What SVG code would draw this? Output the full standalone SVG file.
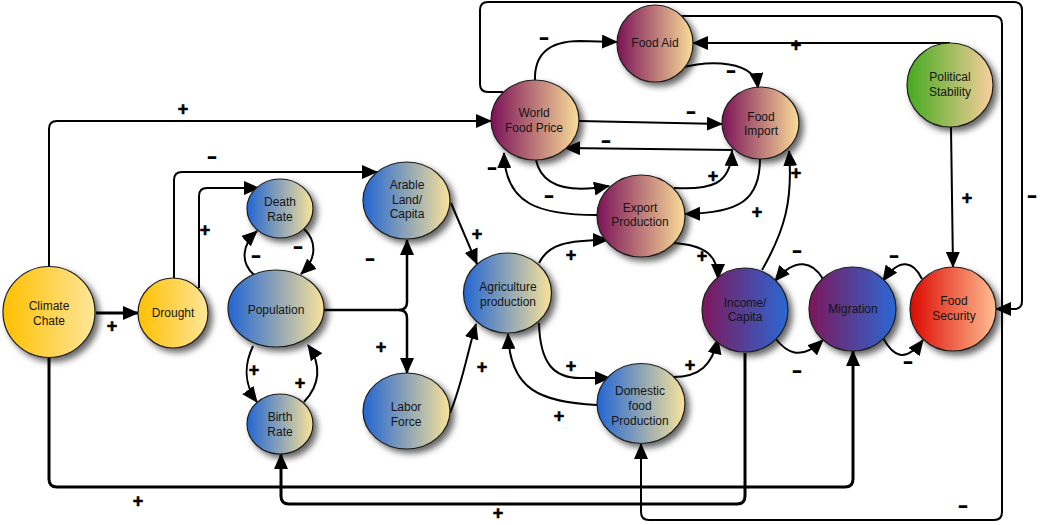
<svg xmlns="http://www.w3.org/2000/svg" width="1046" height="525" viewBox="0 0 1046 525">
<style>
.c{fill:none;stroke:#000;stroke-width:2}
.k{stroke-width:3}
.m2{stroke-width:2.5}
.n{stroke:#1e1e1e;stroke-width:1.2;filter:url(#sh)}
.t{font-family:"Liberation Sans",Arial,sans-serif;font-size:12px;fill:#151515;text-anchor:middle;dominant-baseline:central}
.p{font-family:"Liberation Sans",Arial,sans-serif;font-size:18px;font-weight:bold;fill:#000;stroke:#000;stroke-width:0.6;text-anchor:middle}
.q{font-family:"Liberation Sans",Arial,sans-serif;font-size:24px;font-weight:bold;fill:#000;text-anchor:middle}
</style>
<defs>
<filter id="sh" x="-30%" y="-30%" width="170%" height="170%">
<feDropShadow dx="4" dy="4" stdDeviation="3" flood-color="#000" flood-opacity="0.6"/>
</filter>
<marker id="ah" viewBox="0 0 16 14" refX="15" refY="7" markerWidth="16" markerHeight="14" markerUnits="userSpaceOnUse" orient="auto">
<path d="M0,0 L16,7 L0,14 z" fill="#000"/>
</marker>
<linearGradient id="gY"><stop offset="0" stop-color="#FFC000"/><stop offset="1" stop-color="#FFE69A"/></linearGradient>
<linearGradient id="gB"><stop offset="0" stop-color="#2165D3"/><stop offset="1" stop-color="#F9E39A"/></linearGradient>
<linearGradient id="gM"><stop offset="0" stop-color="#7B1257"/><stop offset="1" stop-color="#FADD99"/></linearGradient>
<linearGradient id="gP"><stop offset="0" stop-color="#7D175A"/><stop offset="1" stop-color="#2A68D4"/></linearGradient>
<linearGradient id="gR"><stop offset="0" stop-color="#DC0800"/><stop offset="1" stop-color="#FFBF93"/></linearGradient>
<linearGradient id="gG"><stop offset="0" stop-color="#44AA1E"/><stop offset="1" stop-color="#F9CF9D"/></linearGradient>
</defs>
<rect width="1046" height="525" fill="#fff"/>
<g id="connectors" marker-end="url(#ah)">
<path class="c k" d="M96,313 L138,313"/>
<path class="c" d="M49,267 V129 Q49,121 57,121 H491"/>
<path class="c k" d="M49,358 V479 Q49,487 57,487 H845 Q853,487 853,479 V351"/>
<path class="c k" d="M745,353 V496 Q745,504 737,504 H289 Q281,504 281,496 V454"/>
<path class="c" d="M503,92 H488 Q480,92 480,84 V10 Q480,2 488,2 H1014 Q1022,2 1022,10 V301 Q1022,309 1014,309 H996"/>
<path class="c" d="M682,16 H994 Q1002,16 1002,24 V512 Q1002,520 994,520 H649 Q641,520 641,512 V444"/>
<path class="c" d="M950,43 H693"/>
<path class="c" d="M951,127 L953,267"/>
<path class="c" d="M922,279 C914,262 900,256 883,281"/>
<path class="c" d="M883,338 C893,356 905,364 923,340"/>
<path class="c" d="M823,279 C813,262 796,256 775,281"/>
<path class="c" d="M775,338 C786,352 800,362 823,340"/>
<path class="c" d="M762,270 C785,230 793,200 789,151"/>
<path class="c" d="M760,159 C760,200 740,213 685,214"/>
<path class="c" d="M674,188 C710,190 731,185 732,151"/>
<path class="c" d="M579,121 L722,124"/>
<path class="c" d="M733,150 L565,148"/>
<path class="c" d="M535,81 C534,55 548,41 580,41 L617,42"/>
<path class="c" d="M680,68 C710,60 755,60 758,88"/>
<path class="c" d="M536,160 C542,188 570,193 609,186"/>
<path class="c" d="M597,215 C540,215 505,205 504,153"/>
<path class="c" d="M451,203 L477,264"/>
<path class="c" d="M450,413 C462,385 468,350 476,324"/>
<path class="c" d="M539,263 C548,245 565,240 608,240"/>
<path class="c" d="M539,323 C540,365 555,378 580,378 L610,378"/>
<path class="c" d="M597,405 C540,402 510,390 508,334"/>
<path class="c" d="M673,243 C705,245 718,255 718,279"/>
<path class="c" d="M673,377 C700,377 712,365 718,339"/>
<path class="c" d="M174,279 V180 Q174,172 182,172 H377"/>
<path class="c" d="M199,288 V196 Q199,188 207,188 H259"/>
<path class="c" d="M304,229 C316,240 318,258 301,274"/>
<path class="c" d="M254,275 C240,262 242,245 257,231"/>
<path class="c" d="M253,346 C244,365 244,385 257,402"/>
<path class="c" d="M304,402 C320,385 322,365 308,345"/>
<path class="c m2" d="M324,310 H399 Q407,310 407,302 V240"/>
<path class="c m2" d="M399,310 Q407,310 407,318 V373"/>
</g>
<g id="labels">
<text class="p" x="112" y="332">+</text>
<text class="p" x="183" y="115">+</text>
<text class="p" x="138" y="507">+</text>
<text class="p" x="498" y="519">+</text>
<text class="q" x="212" y="164" textLength="11" lengthAdjust="spacingAndGlyphs">-</text>
<text class="p" x="205" y="236">+</text>
<text class="q" x="298" y="254" textLength="11" lengthAdjust="spacingAndGlyphs">-</text>
<text class="q" x="256" y="263" textLength="11" lengthAdjust="spacingAndGlyphs">-</text>
<text class="p" x="254" y="376">+</text>
<text class="p" x="300" y="389">+</text>
<text class="q" x="370" y="266" textLength="11" lengthAdjust="spacingAndGlyphs">-</text>
<text class="p" x="381" y="353">+</text>
<text class="p" x="477" y="240">+</text>
<text class="p" x="482" y="373">+</text>
<text class="q" x="492" y="175" textLength="11" lengthAdjust="spacingAndGlyphs">-</text>
<text class="q" x="549" y="203" textLength="11" lengthAdjust="spacingAndGlyphs">-</text>
<text class="q" x="544" y="45" textLength="11" lengthAdjust="spacingAndGlyphs">-</text>
<text class="q" x="731" y="78" textLength="11" lengthAdjust="spacingAndGlyphs">-</text>
<text class="q" x="691" y="119" textLength="11" lengthAdjust="spacingAndGlyphs">-</text>
<text class="q" x="606" y="148" textLength="11" lengthAdjust="spacingAndGlyphs">-</text>
<text class="p" x="713" y="182">+</text>
<text class="p" x="757" y="218">+</text>
<text class="p" x="571" y="261">+</text>
<text class="p" x="702" y="262">+</text>
<text class="p" x="571" y="372">+</text>
<text class="p" x="690" y="371">+</text>
<text class="p" x="559" y="422">+</text>
<text class="q" x="797" y="258" textLength="11" lengthAdjust="spacingAndGlyphs">-</text>
<text class="q" x="797" y="378" textLength="11" lengthAdjust="spacingAndGlyphs">-</text>
<text class="q" x="894" y="263" textLength="11" lengthAdjust="spacingAndGlyphs">-</text>
<text class="q" x="908" y="369" textLength="11" lengthAdjust="spacingAndGlyphs">-</text>
<text class="p" x="796" y="179">+</text>
<text class="p" x="796" y="51">+</text>
<text class="p" x="967" y="204">+</text>
<text class="q" x="1032" y="203" textLength="11" lengthAdjust="spacingAndGlyphs">-</text>
<text class="q" x="963" y="513" textLength="11" lengthAdjust="spacingAndGlyphs">-</text>
</g>
<g id="climate"><ellipse class="n" cx="49" cy="312" rx="46" ry="45.5" fill="url(#gY)"/><text class="t" x="49" y="306">Climate</text><text class="t" x="49" y="321">Chate</text></g>
<g id="drought"><ellipse class="n" cx="173" cy="313" rx="35" ry="35" fill="url(#gY)"/><text class="t" x="173" y="313">Drought</text></g>
<g id="deathrate"><ellipse class="n" cx="280" cy="208.5" rx="33" ry="29.5" fill="url(#gB)"/><text class="t" x="280" y="202">Death</text><text class="t" x="280" y="217">Rate</text></g>
<g id="population"><ellipse class="n" cx="276" cy="308.5" rx="48" ry="38.5" fill="url(#gB)"/><text class="t" x="276" y="310">Population</text></g>
<g id="birthrate"><ellipse class="n" cx="280" cy="424" rx="33" ry="30" fill="url(#gB)"/><text class="t" x="280" y="417">Birth</text><text class="t" x="280" y="432">Rate</text></g>
<g id="arable"><ellipse class="n" cx="406.5" cy="200.5" rx="43.5" ry="38.5" fill="url(#gB)"/><text class="t" x="407" y="185">Arable</text><text class="t" x="407" y="200">Land/</text><text class="t" x="407" y="214">Capita</text></g>
<g id="labor"><ellipse class="n" cx="406.5" cy="411" rx="43.5" ry="38" fill="url(#gB)"/><text class="t" x="406" y="407">Labor</text><text class="t" x="406" y="422">Force</text></g>
<g id="agriculture"><ellipse class="n" cx="507.5" cy="293" rx="44" ry="40" fill="url(#gB)"/><text class="t" x="508" y="287">Agriculture</text><text class="t" x="508" y="302">production</text></g>
<g id="domestic"><ellipse class="n" cx="641" cy="403.5" rx="44" ry="40" fill="url(#gB)"/><text class="t" x="640" y="391">Domestic</text><text class="t" x="640" y="406">food</text><text class="t" x="640" y="421">Production</text></g>
<g id="export"><ellipse class="n" cx="641" cy="216" rx="44" ry="41" fill="url(#gM)"/><text class="t" x="640" y="208">Export</text><text class="t" x="640" y="222">Production</text></g>
<g id="worldfoodprice"><ellipse class="n" cx="535" cy="120" rx="44" ry="40" fill="url(#gM)"/><text class="t" x="534" y="113">World</text><text class="t" x="534" y="128">Food Price</text></g>
<g id="foodaid"><ellipse class="n" cx="655" cy="43.5" rx="38" ry="38.5" fill="url(#gM)"/><text class="t" x="655" y="43">Food Aid</text></g>
<g id="foodimport"><ellipse class="n" cx="760.5" cy="123" rx="38.5" ry="36" fill="url(#gM)"/><text class="t" x="761" y="117">Food</text><text class="t" x="761" y="131">Import</text></g>
<g id="political"><ellipse class="n" cx="950" cy="85" rx="43" ry="42" fill="url(#gG)"/><text class="t" x="950" y="77">Political</text><text class="t" x="950" y="92">Stability</text></g>
<g id="income"><ellipse class="n" cx="745" cy="310" rx="43" ry="42" fill="url(#gP)"/><text class="t" x="745" y="303">Income/</text><text class="t" x="745" y="317">Capita</text></g>
<g id="migration"><ellipse class="n" cx="852.5" cy="309" rx="43.5" ry="42" fill="url(#gP)"/><text class="t" x="853" y="309">Migration</text></g>
<g id="foodsecurity"><ellipse class="n" cx="953" cy="309" rx="43" ry="42" fill="url(#gR)"/><text class="t" x="954" y="301">Food</text><text class="t" x="954" y="316">Security</text></g>
</svg>
